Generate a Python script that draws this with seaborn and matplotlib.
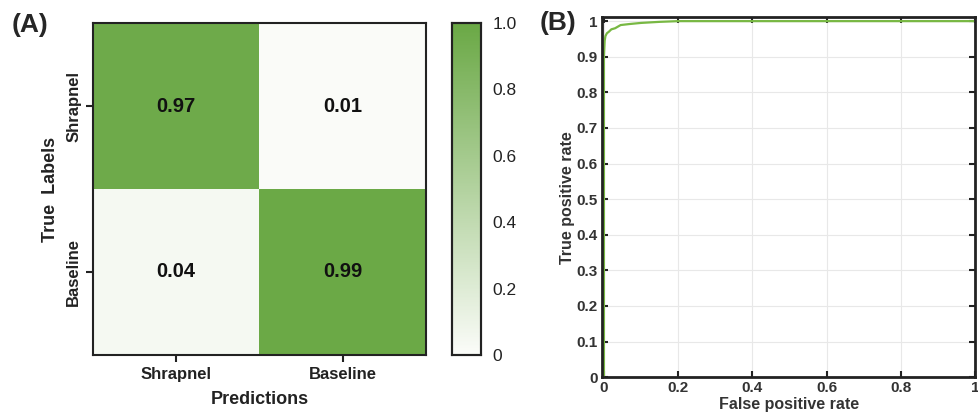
import numpy as np
import pandas as pd
import matplotlib
matplotlib.use("Agg")
import matplotlib.pyplot as plt
import seaborn as sns
from matplotlib.colors import LinearSegmentedColormap

# Data
classes = ["Shrapnel", "Baseline"]
cm_row_shrapnel = [0.97, 0.01]
cm_row_baseline = [0.04, 0.99]

fpr = [0.0, 0.0, 0.002, 0.004, 0.008, 0.013, 0.02, 0.03, 0.045, 0.07, 0.1, 0.15, 0.2, 0.4, 0.6, 0.8, 1.0]
tpr = [0.0, 0.90, 0.945, 0.958, 0.966, 0.970, 0.977, 0.980, 0.989, 0.992, 0.995, 0.998, 1.0, 1.0, 1.0, 1.0, 1.0]

sns.set_theme(style="white")
plt.rcParams["font.family"] = ["Liberation Sans", "DejaVu Sans"]

cm = pd.DataFrame([cm_row_shrapnel, cm_row_baseline], index=classes, columns=classes)
green_cmap = LinearSegmentedColormap.from_list("wgreen", ["#fbfcf9", "#6aa845"])

fig = plt.figure(figsize=(9.79, 4.2), dpi=100)
ax_cm = fig.add_axes([0.095, 0.155, 0.340, 0.790])
ax_cb = fig.add_axes([0.462, 0.155, 0.0296, 0.790])
ax_roc = fig.add_axes([0.615, 0.102, 0.381, 0.857])

# --- Panel A: confusion matrix ---
sns.heatmap(cm, ax=ax_cm, cbar_ax=ax_cb, cmap=green_cmap, vmin=0, vmax=1,
            annot=True, fmt=".2f",
            annot_kws={"fontsize": 14.5, "fontweight": "bold", "color": "#111111"})
for side in ax_cm.spines.values():
    side.set_visible(True)
    side.set_linewidth(1.5)
    side.set_color("#222222")
ax_cm.tick_params(axis="both", which="both", direction="out", length=5, width=1.5,
                  color="#222222", left=True, bottom=True)
ax_cm.set_xticklabels(classes, fontsize=12, fontweight="bold", color="#222222")
ax_cm.set_yticklabels(classes, fontsize=12, fontweight="bold", color="#222222",
                      rotation=90, va="center")
ax_cm.set_xlabel("Predictions", fontsize=13, fontweight="bold", color="#222222", labelpad=7)
ax_cm.set_ylabel("True  Labels", fontsize=13, fontweight="bold", color="#222222", labelpad=5)

ax_cb.set_yticks([0, 0.2, 0.4, 0.6, 0.8, 1.0])
ax_cb.set_yticklabels(["0", "0.2", "0.4", "0.6", "0.8", "1.0"], fontsize=12.5, color="#222222")
ax_cb.tick_params(axis="y", direction="in", length=3, width=1.2, color="#222222",
                  left=True, right=True, labelleft=False, labelright=True, pad=8)
for side in ax_cb.spines.values():
    side.set_visible(True)
    side.set_linewidth(1.5)
    side.set_color("#222222")

fig.text(0.012, 0.94, "(A)", fontsize=19, fontweight="bold", va="center")

# --- Panel B: ROC curve ---
roc = pd.DataFrame({"fpr": fpr, "tpr": tpr})
sns.lineplot(data=roc, x="fpr", y="tpr", ax=ax_roc, color="#78b843", linewidth=1.6,
             sort=False, estimator=None)
ax_roc.set_xlim(-0.005, 1)
ax_roc.set_ylim(0, 1.011)
ax_roc.set_xticks([0, 0.2, 0.4, 0.6, 0.8, 1.0])
ax_roc.set_xticklabels(["0", "0.2", "0.4", "0.6", "0.8", "1"])
ax_roc.set_yticks(np.round(np.arange(0, 1.01, 0.1), 1))
ax_roc.set_yticklabels(["0", "0.1", "0.2", "0.3", "0.4", "0.5", "0.6", "0.7", "0.8", "0.9", "1"])
for lab in ax_roc.get_xticklabels() + ax_roc.get_yticklabels():
    lab.set_fontweight("bold")
    lab.set_fontsize(11)
    lab.set_color("#333333")
ax_roc.tick_params(axis="both", direction="in", length=4, width=1.5, color="#222222",
                   top=True, right=True, bottom=True, left=True, pad=3)
ax_roc.grid(True, color="#e8e8e8", linewidth=0.8)
for side in ax_roc.spines.values():
    side.set_linewidth(2)
    side.set_color("#222222")
ax_roc.set_xlabel("False positive rate", fontsize=11.5, fontweight="bold", color="#333333", labelpad=1)
ax_roc.set_ylabel("True positive rate", fontsize=11.5, fontweight="bold", color="#333333", labelpad=1)

fig.text(0.551, 0.945, "(B)", fontsize=19, fontweight="bold", va="center")

fig.savefig("out.png", dpi=100)
